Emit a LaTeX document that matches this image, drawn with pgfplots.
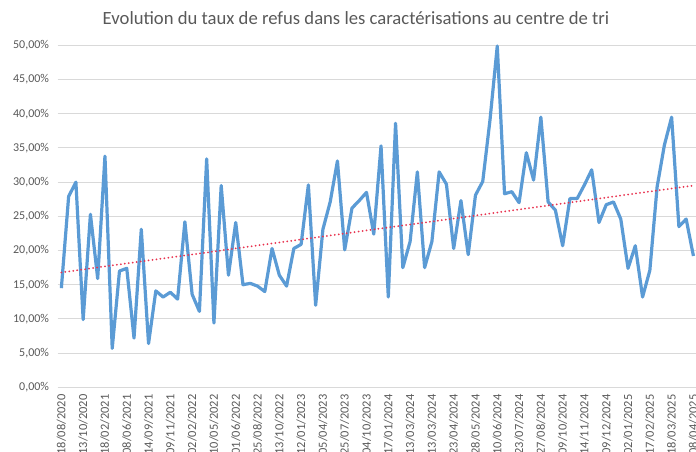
\documentclass[border=0pt]{standalone}
\usepackage{fontspec}
\setmainfont{Carlito}
\usepackage{pgfplots}
\pgfplotsset{compat=1.18}
\definecolor{linblue}{HTML}{5B9BD5}
\definecolor{trendred}{HTML}{E8334F}
\definecolor{gridgray}{HTML}{D9D9D9}
\definecolor{txtgray}{HTML}{595959}
\begin{document}
\begin{tikzpicture}
\useasboundingbox (0,0) rectangle (522pt,339pt);
\node[text=txtgray, font=\fontsize{14}{16}\selectfont] at (267pt,325.5pt) {Evolution du taux de refus dans les caractérisations au centre de tri};
\begin{axis}[
  at={(43.3pt,48.5pt)}, anchor=south west,
  width=479.5pt, height=256.5pt, scale only axis,
  xmin=-0.5, xmax=87.5, ymin=0, ymax=50,
  ytick={0,5,...,50},
  xtick={0,3,...,87},
  xticklabels={18/08/2020,13/10/2020,18/02/2021,08/06/2021,14/09/2021,09/11/2021,02/02/2022,10/05/2022,01/06/2022,25/08/2022,13/10/2022,12/01/2023,05/04/2023,25/07/2023,04/10/2023,17/01/2024,13/03/2024,13/03/2024,23/04/2024,28/05/2024,10/06/2024,23/07/2024,27/08/2024,09/10/2024,14/11/2024,09/12/2024,02/01/2025,17/02/2025,18/03/2025,08/04/2025},
  x tick label style={rotate=90, anchor=east, font=\fontsize{9.3}{10}\selectfont, text=txtgray},
  y tick label style={font=\fontsize{9}{10}\selectfont, text=txtgray},
  yticklabel={\pgfmathprintnumber[fixed,fixed zerofill,precision=2,use comma,assume math mode=true]{\tick}\%},
  xticklabel shift=2pt,
  yticklabel shift=3pt,
  axis line style={draw=none},
  major tick length=0pt,
  ymajorgrids, grid style={gridgray, line width=0.75pt},
  clip=false,
]
\addplot[linblue, line width=2.4pt, line join=round] coordinates {
(0,14.5)(1,27.9)(2,30.0)(3,9.9)(4,25.3)(5,15.9)(6,33.8)(7,5.7)(8,17.0)(9,17.4)
(10,7.2)(11,23.1)(12,6.4)(13,14.1)(14,13.2)(15,13.9)(16,12.9)(17,24.2)(18,13.6)(19,11.1)
(20,33.4)(21,9.4)(22,29.5)(23,16.4)(24,24.1)(25,15.0)(26,15.2)(27,14.8)(28,14.0)(29,20.3)
(30,16.4)(31,14.8)(32,20.3)(33,20.9)(34,29.6)(35,12.0)(36,23.1)(37,27.1)(38,33.1)(39,20.1)
(40,26.2)(41,27.3)(42,28.5)(43,22.4)(44,35.3)(45,13.2)(46,38.6)(47,17.5)(48,21.3)(49,31.5)
(50,17.5)(51,21.3)(52,31.5)(53,29.7)(54,20.3)(55,27.3)(56,19.4)(57,28.1)(58,30.1)(59,39.1)
(60,49.9)(61,28.3)(62,28.6)(63,27.0)(64,34.3)(65,30.3)(66,39.5)(67,27.1)(68,25.9)(69,20.7)
(70,27.6)(71,27.6)(72,29.6)(73,31.8)(74,24.1)(75,26.7)(76,27.1)(77,24.6)(78,17.4)(79,20.7)
(80,13.2)(81,17.1)(82,29.3)(83,35.4)(84,39.5)(85,23.5)(86,24.6)(87,19.2)
};
\addplot[trendred, line width=1.5pt, line cap=round, dash pattern=on 0pt off 3pt] coordinates {(0,16.8)(87,29.5)};
\end{axis}
\end{tikzpicture}
\end{document}
